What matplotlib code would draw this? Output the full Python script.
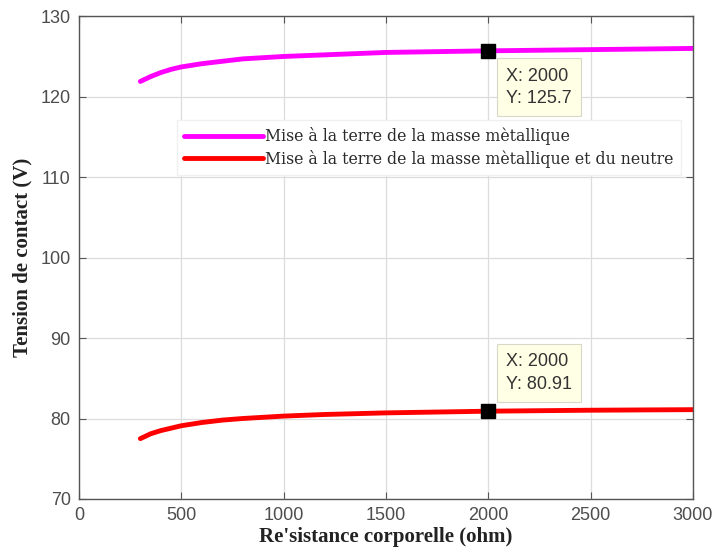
import numpy as np
import matplotlib.pyplot as plt

# Body resistance (ohm)
resistance = [300, 350, 400, 450, 500, 600, 700, 800, 1000, 1200, 1500, 2000, 2500, 3000]
# Contact voltage (V)
v_masse = [121.9, 122.5, 123.0, 123.4, 123.7, 124.1, 124.4, 124.7, 125.0, 125.2, 125.5, 125.7, 125.85, 126.0]
v_masse_neutre = [77.5, 78.1, 78.5, 78.8, 79.1, 79.5, 79.8, 80.0, 80.3, 80.5, 80.7, 80.91, 81.03, 81.1]

labels = ['Mise à la terre de la masse mètallique',
          'Mise à la terre de la masse mètallique et du neutre']
tip_x = 2000
tip_y = [125.7, 80.91]

fig = plt.figure(figsize=(7.15, 5.6), dpi=100)
ax = fig.add_axes([0.1105, 0.109, 0.8585, 0.862])

ax.plot(resistance, v_masse, color='#ff00ff', linewidth=3.5, label=labels[0], solid_capstyle='round')
ax.plot(resistance, v_masse_neutre, color='#ff0000', linewidth=3.5, label=labels[1], solid_capstyle='round')

# data tips
ax.plot([tip_x, tip_x], tip_y, 's', color='black', markersize=10, zorder=5)
tip_box = dict(boxstyle='square,pad=0.5', facecolor='#ffffe6', edgecolor='#d8d8c8', linewidth=0.8)
ax.annotate(f'X: {tip_x}\nY: {tip_y[0]}', (tip_x, tip_y[0]), xytext=(13, -12),
            textcoords='offset points', ha='left', va='top', fontsize=13,
            family='Liberation Sans', color='#333333', bbox=tip_box, linespacing=1.45)
ax.annotate(f'X: {tip_x}\nY: {tip_y[1]}', (tip_x, tip_y[1]), xytext=(13, 42),
            textcoords='offset points', ha='left', va='top', fontsize=13,
            family='Liberation Sans', color='#333333', bbox=tip_box, linespacing=1.45)

ax.set_xlim(0, 3000)
ax.set_ylim(70, 130)
ax.set_xticks(np.arange(0, 3001, 500))
ax.set_yticks(np.arange(70, 131, 10))
ax.grid(True, color='#dcdcdc', linewidth=0.9)
ax.set_axisbelow(True)
ax.tick_params(direction='in', top=True, right=True, length=5, colors='#555555',
               labelsize=13, labelcolor='#4d4d4d', pad=6)
for lab in ax.get_xticklabels() + ax.get_yticklabels():
    lab.set_family('Liberation Sans')
for s in ax.spines.values():
    s.set_color('#555555')
    s.set_linewidth(1.0)

ax.set_xlabel("Re'sistance corporelle (ohm)", family='Liberation Serif', fontweight='bold',
              fontsize=15, color='#222222', labelpad=2)
ax.set_ylabel('Tension de contact (V)', family='Liberation Serif', fontweight='bold',
              fontsize=15, color='#222222', labelpad=6)

leg = ax.legend(loc='upper left', bbox_to_anchor=(0.16, 0.785), prop={'family': 'DejaVu Serif', 'size': 11.3},
                handlelength=5.0, handletextpad=0.15, borderaxespad=0, borderpad=0.45,
                labelspacing=0.3, fancybox=False, framealpha=1, edgecolor='#f0f0f0')
for t in leg.get_texts():
    t.set_color('#2a2a2a')

fig.savefig('out.png', dpi=100)
